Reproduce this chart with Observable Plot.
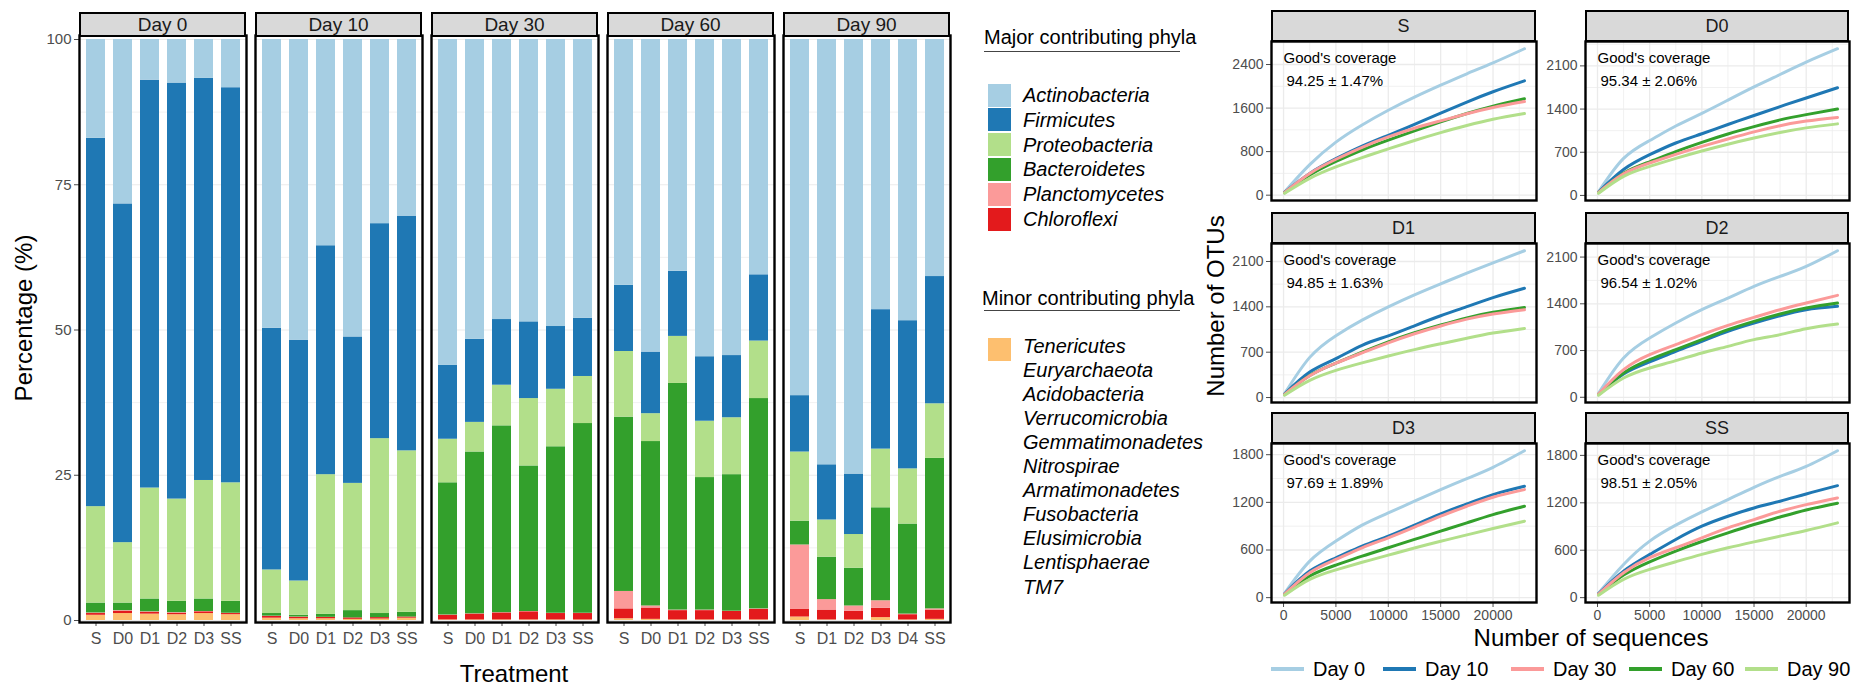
<!DOCTYPE html>
<html>
<head>
<meta charset="utf-8">
<script src="https://cdn.jsdelivr.net/npm/d3@7"></script>
<script src="https://cdn.jsdelivr.net/npm/@observablehq/plot@0.6"></script>
<style>
  body { margin: 0; background: #fff; font-family: "Liberation Sans", Arial, sans-serif; }
  #root { position: relative; width: 1851px; height: 687px; overflow: hidden; background: #fff; }
  .strip { position: absolute; background: #D9D9D9; border: 2px solid #000; box-sizing: border-box;
           text-align: center; color: #1A1A1A; white-space: nowrap; }
  .title { position: absolute; color: #000; white-space: nowrap; font-size: 24px; transform: translate(-50%, -50%); }
  .rot { transform: translate(-50%, -50%) rotate(-90deg); }
  .lg { position: absolute; white-space: nowrap; color: #000; }
  .sw { position: absolute; }
</style>
</head>
<body>
<div id="root"></div>
<script>
// ---------------- DATA ----------------
const days = ["Day 0", "Day 10", "Day 30", "Day 60", "Day 90"];
const treatmentsStd = ["S", "D0", "D1", "D2", "D3", "SS"];
const treatmentsDay90 = ["S", "D1", "D2", "D3", "D4", "SS"];

// stacking order bottom -> top
const phylaStack = ["Tenericutes", "Chloroflexi", "Planctomycetes", "Bacteroidetes", "Proteobacteria", "Firmicutes", "Actinobacteria"];
const phylaColors = ["#FDBF6F", "#E31A1C", "#FB9A99", "#33A02C", "#B2DF8A", "#1F78B4", "#A6CEE3"];

const majorPhyla = ["Actinobacteria", "Firmicutes", "Proteobacteria", "Bacteroidetes", "Planctomycetes", "Chloroflexi"];
const minorPhyla = ["Tenericutes", "Euryarchaeota", "Acidobacteria", "Verrucomicrobia", "Gemmatimonadetes",
  "Nitrospirae", "Armatimonadetes", "Fusobacteria", "Elusimicrobia", "Lentisphaerae", "TM7"];

// relative abundance (%), 6 treatments per day, days in order Day 0..Day 90
const tenericutes    = [0.9,1.2,1.1,1.0,1.2,1.0,  0.4,0.3,0.3,0.2,0.25,0.4,  0.1,0.1,0.1,0.1,0.1,0.1,  0.3,0.2,0.1,0.1,0.1,0.1,  0.6,0.1,0.1,0.5,0.1,0.2];
const chloroflexi    = [0.3,0.4,0.3,0.25,0.3,0.2, 0.3,0.25,0.25,0.25,0.25,0.2, 0.8,1.0,1.2,1.4,1.1,1.1, 1.7,1.95,1.6,1.6,1.45,1.8, 1.3,1.7,1.5,1.6,0.9,1.6];
const planctomycetes = [0.1,0.1,0.1,0.1,0.05,0.05, 0.05,0.05,0,0,0,0, 0.05,0.05,0.05,0.05,0.05,0.05, 3.0,0.35,0.1,0.1,0.05,0.1, 11.1,1.8,0.9,1.3,0.1,0.2];
const bacteroidetes  = [1.7,1.3,2.2,1.95,2.15,2.05, 0.45,0.3,0.5,1.25,0.7,0.8, 22.75,27.85,32.15,25.05,28.65,32.65, 30.0,28.3,39.0,22.8,23.5,36.2, 4.1,7.3,6.5,16.0,15.5,25.9];
const proteobacteria = [16.6,10.4,19.1,17.6,20.4,20.4, 7.5,5.9,24.05,21.9,30.1,27.8, 7.5,5.1,7.0,11.6,9.9,8.1, 11.3,4.8,8.1,9.7,9.8,9.9, 11.9,6.4,5.8,10.1,9.5,9.4];
const firmicutes     = [63.4,58.3,70.2,71.6,69.2,68.0, 41.6,41.4,39.4,25.2,37.0,40.4, 12.7,14.3,11.3,13.2,10.8,10.0, 11.4,10.6,11.2,11.1,10.7,11.4, 9.7,9.5,10.4,24.0,25.5,21.9];
const actinobacteria = [17.0,28.3,7.0,7.5,6.7,8.3, 49.7,51.8,35.5,51.2,31.7,30.4, 56.1,51.6,48.2,48.6,49.4,48.0, 42.3,53.8,39.9,54.6,54.4,40.5, 61.3,73.2,74.8,46.5,48.4,40.8];

const percentTicks = [0, 25, 50, 75, 100];
const percentMinor = [12.5, 37.5, 62.5, 87.5];

// rarefaction curves
const seqDepth = [100, 2500, 5000, 7500, 10000, 12500, 15000, 17500, 20000, 23000];
const seqTicks = [0, 5000, 10000, 15000, 20000];
const seqMinor = [2500, 7500, 12500, 17500, 22500];
const curveColors = ["#A6CEE3", "#1F78B4", "#FB9A99", "#33A02C", "#B2DF8A"];
const drawOrder = ["Day 0", "Day 10", "Day 60", "Day 30", "Day 90"];

const panelNames = ["S", "D0", "D1", "D2", "D3", "SS"];
const coverage = ["94.25 ± 1.47%", "95.34 ± 2.06%", "94.85 ± 1.63%", "96.54 ± 1.02%", "97.69 ± 1.89%", "98.51 ± 2.05%"];
const panelTicks = [[0, 800, 1600, 2400], [0, 700, 1400, 2100], [0, 700, 1400, 2100], [0, 700, 1400, 2100], [0, 600, 1200, 1800], [0, 600, 1200, 1800]];
const panelMinor = [[400, 1200, 2000, 2800], [350, 1050, 1750, 2450], [350, 1050, 1750, 2450], [350, 1050, 1750, 2450], [300, 900, 1500, 2100], [300, 900, 1500, 2100]];

// OTUs per panel; rows: Day 0, Day 10, Day 30, Day 60, Day 90
const otuS = [
  [60, 560, 975, 1290, 1560, 1800, 2020, 2230, 2430, 2690],
  [55, 400, 670, 900, 1100, 1300, 1505, 1710, 1900, 2100],
  [50, 400, 660, 880, 1070, 1230, 1365, 1495, 1610, 1720],
  [45, 370, 620, 830, 1010, 1180, 1345, 1500, 1635, 1770],
  [35, 310, 520, 690, 850, 1005, 1150, 1280, 1395, 1500]
];
const otuD0 = [
  [60, 600, 890, 1125, 1330, 1545, 1760, 1960, 2160, 2378],
  [55, 420, 660, 850, 1000, 1150, 1295, 1440, 1580, 1746],
  [50, 350, 525, 665, 795, 915, 1030, 1130, 1205, 1265],
  [45, 360, 545, 710, 860, 995, 1115, 1225, 1310, 1400],
  [35, 310, 470, 600, 720, 830, 930, 1020, 1095, 1160]
];
const otuD1 = [
  [60, 620, 955, 1195, 1400, 1585, 1755, 1920, 2080, 2266],
  [55, 393, 600, 807, 952, 1107, 1262, 1402, 1542, 1686],
  [50, 335, 530, 690, 845, 985, 1105, 1210, 1290, 1355],
  [45, 340, 530, 700, 860, 1000, 1120, 1230, 1315, 1390],
  [35, 265, 420, 535, 640, 740, 830, 915, 995, 1066]
];
const otuD2 = [
  [60, 589, 888, 1112, 1312, 1486, 1661, 1810, 1960, 2195],
  [40, 349, 529, 688, 838, 988, 1112, 1222, 1312, 1362],
  [50, 414, 638, 788, 938, 1077, 1197, 1312, 1411, 1526],
  [45, 364, 564, 713, 863, 1012, 1137, 1247, 1337, 1411],
  [30, 289, 439, 549, 663, 763, 863, 938, 1027, 1097]
];
const otuD3 = [
  [55, 460, 712, 913, 1067, 1214, 1360, 1499, 1641, 1850],
  [50, 335, 502, 649, 774, 913, 1055, 1180, 1298, 1402],
  [45, 314, 481, 628, 753, 887, 1026, 1151, 1264, 1360],
  [40, 272, 410, 523, 628, 733, 837, 942, 1046, 1151],
  [30, 230, 350, 445, 535, 625, 710, 790, 870, 963]
];
const otuSS = [
  [55, 420, 715, 917, 1085, 1241, 1396, 1535, 1661, 1859],
  [50, 336, 547, 736, 904, 1030, 1135, 1220, 1312, 1417],
  [45, 315, 505, 631, 757, 883, 988, 1093, 1177, 1262],
  [40, 286, 454, 589, 710, 820, 925, 1020, 1110, 1195],
  [30, 231, 357, 454, 547, 631, 706, 778, 849, 946]
];
const otuPanels = [otuS, otuD0, otuD1, otuD2, otuD3, otuSS];

// ---------------- DRAW ----------------
const FONT = '"Liberation Sans", Arial, sans-serif';
const root = document.getElementById("root");
function place(node, left, top) {
  node.style.position = "absolute";
  node.style.left = left + "px";
  node.style.top = top + "px";
  root.appendChild(node);
  return node;
}
function div(cls, html, css) {
  const d = document.createElement("div");
  d.className = cls;
  d.textContent = html;
  Object.assign(d.style, css || {});
  root.appendChild(d);
  return d;
}

// Bars: long table
const phylumArrays = {Tenericutes: tenericutes, Chloroflexi: chloroflexi, Planctomycetes: planctomycetes,
  Bacteroidetes: bacteroidetes, Proteobacteria: proteobacteria, Firmicutes: firmicutes, Actinobacteria: actinobacteria};
const barRows = [];
days.forEach((day, di) => {
  const cats = di === 4 ? treatmentsDay90 : treatmentsStd;
  cats.forEach((t, ti) => {
    phylaStack.forEach(p => barRows.push({day, treatment: t, phylum: p, value: phylumArrays[p][di * 6 + ti]}));
  });
});

const barLefts = [79, 255, 431, 607, 783];
const BW = 167, BPH = 587, BMB = 40, BTOP = 35;
days.forEach((day, di) => {
  const cats = di === 4 ? treatmentsDay90 : treatmentsStd;
  const first = di === 0;
  const ml = first ? 79 : 0;
  const chart = Plot.plot({
    width: ml + BW, height: BPH + BMB,
    marginLeft: ml, marginRight: 0, marginTop: 0, marginBottom: BMB,
    style: {background: "transparent", overflow: "visible", fontFamily: FONT},
    x: {domain: cats, paddingInner: 0.3, paddingOuter: 0.22, axis: null},
    y: {domain: [0, 100], range: [BPH - 2, 4], axis: null},
    color: {domain: phylaStack, range: phylaColors},
    marks: [
      Plot.ruleY(percentMinor, {stroke: "#EBEBEB", strokeWidth: 0.7}),
      Plot.ruleY(percentTicks, {stroke: "#EBEBEB", strokeWidth: 1.2}),
      Plot.barY(barRows.filter(r => r.day === day), {x: "treatment", y: "value", fill: "phylum", order: phylaStack}),
      first ? Plot.axisY(percentTicks, {tickSize: 5, tickPadding: 3, fontSize: 15, color: "#4D4D4D", label: null}) : null,
      Plot.axisX({tickSize: 4, tickPadding: 6, fontSize: 16, color: "#4D4D4D", label: null}),
      Plot.frame({stroke: "#000", strokeWidth: 2.4})
    ]
  });
  place(chart, first ? 0 : barLefts[di], BTOP);
  div("strip", day, {left: barLefts[di] + "px", top: "12px", width: BW + "px", height: "25px",
    fontSize: "19px", lineHeight: "21px"});
});

div("title", "Treatment", {left: "514px", top: "674px"});
div("title rot", "Percentage (%)", {left: "24px", top: "318px"});

// Phyla legend
div("lg", "Major contributing phyla", {left: "984px", top: "25px", fontSize: "20px", lineHeight: "24px"});
div("lg", "", {left: "984px", top: "51px", width: "196px", height: "0", borderTop: "1.6px solid #444"});
majorPhyla.forEach((p, i) => {
  const cy = 95 + 24.8 * i;
  div("sw", "", {left: "988px", top: (cy - 11.5) + "px", width: "23px", height: "23px",
    background: phylaColors[phylaStack.indexOf(p)]});
  div("lg", p, {left: "1023px", top: (cy - 12) + "px", fontSize: "20px", lineHeight: "24px", fontStyle: "italic"});
});
div("lg", "Minor contributing phyla", {left: "982px", top: "286px", fontSize: "20px", lineHeight: "24px"});
div("lg", "", {left: "984px", top: "310px", width: "196px", height: "0", borderTop: "1.6px solid #444"});
minorPhyla.forEach((p, i) => {
  const cy = 346 + 24.05 * i;
  if (phylaStack.includes(p)) {
    div("sw", "", {left: "988px", top: (cy - 8) + "px", width: "23px", height: "23px",
      background: phylaColors[phylaStack.indexOf(p)]});
  }
  div("lg", p, {left: "1023px", top: (cy - 12) + "px", fontSize: "20px", lineHeight: "24px", fontStyle: "italic"});
});

// Rarefaction panels
const colLeft = [1271, 1585], colW = [265, 264];
const rowTop = [41, 243, 443];
const CPH = 159, CML = 50;
panelNames.forEach((name, pi) => {
  const col = pi % 2, row = Math.floor(pi / 2);
  const showX = row === 2;
  const mb = showX ? 30 : 2;
  const tidy = [];
  drawOrder.forEach(d => {
    const k = days.indexOf(d);
    otuPanels[pi][k].forEach((v, i) => tidy.push({day: d, x: seqDepth[i], y: v}));
  });
  const ext = d3.extent(tidy, d => d.y);
  const pad = (ext[1] - ext[0]) * 0.05;
  const ydom = [ext[0] - pad, ext[1] + pad];
  const minor = panelMinor[pi].filter(v => v > ydom[0] && v < ydom[1]);
  const chart = Plot.plot({
    width: CML + colW[col], height: CPH + mb,
    marginLeft: CML, marginRight: 0, marginTop: 0, marginBottom: mb,
    style: {background: "transparent", overflow: "visible", fontFamily: FONT},
    x: {domain: [-1150, 24150], axis: null},
    y: {domain: ydom, axis: null},
    color: {domain: days, range: curveColors},
    marks: [
      Plot.ruleX(seqMinor, {stroke: "#EBEBEB", strokeWidth: 0.7}),
      Plot.ruleY(minor, {stroke: "#EBEBEB", strokeWidth: 0.7}),
      Plot.ruleX(seqTicks, {stroke: "#EBEBEB", strokeWidth: 1.3}),
      Plot.ruleY(panelTicks[pi], {stroke: "#EBEBEB", strokeWidth: 1.3}),
      Plot.line(tidy, {x: "x", y: "y", z: "day", stroke: "day", strokeWidth: 3, curve: "natural"}),
      Plot.text(["Good's coverage"], {text: d => d, frameAnchor: "top-left", dx: 12, dy: 11,
        lineAnchor: "top", textAnchor: "start", fontSize: 15, fill: "#000"}),
      Plot.text([coverage[pi]], {text: d => d, frameAnchor: "top-left", dx: 15, dy: 34,
        lineAnchor: "top", textAnchor: "start", fontSize: 15, fill: "#000"}),
      Plot.axisY(panelTicks[pi], {tickSize: 5, tickPadding: 3, fontSize: 14, color: "#4D4D4D",
        tickFormat: "d", label: null}),
      showX ? Plot.axisX(seqTicks, {tickSize: 5, tickPadding: 3, fontSize: 14, color: "#4D4D4D",
        tickFormat: "d", label: null}) : null,
      Plot.frame({stroke: "#000", strokeWidth: 2.4})
    ]
  });
  place(chart, colLeft[col] - CML, rowTop[row]);
  div("strip", name, {left: colLeft[col] + "px", top: (rowTop[row] - 31) + "px", width: colW[col] + "px",
    height: "32px", fontSize: "18px", lineHeight: "28px"});
});

div("title", "Number of sequences", {left: "1591px", top: "638px"});
div("title rot", "Number of OTUs", {left: "1216px", top: "306px"});

// curve legend
const legLineX = [1271, 1383, 1511, 1629, 1745];
days.forEach((d, i) => {
  div("sw", "", {left: legLineX[i] + "px", top: "667px", width: "33px", height: "4px", background: curveColors[i]});
  div("lg", d, {left: (legLineX[i] + 42) + "px", top: "657px", fontSize: "20px", lineHeight: "24px"});
});
</script>
</body>
</html>
